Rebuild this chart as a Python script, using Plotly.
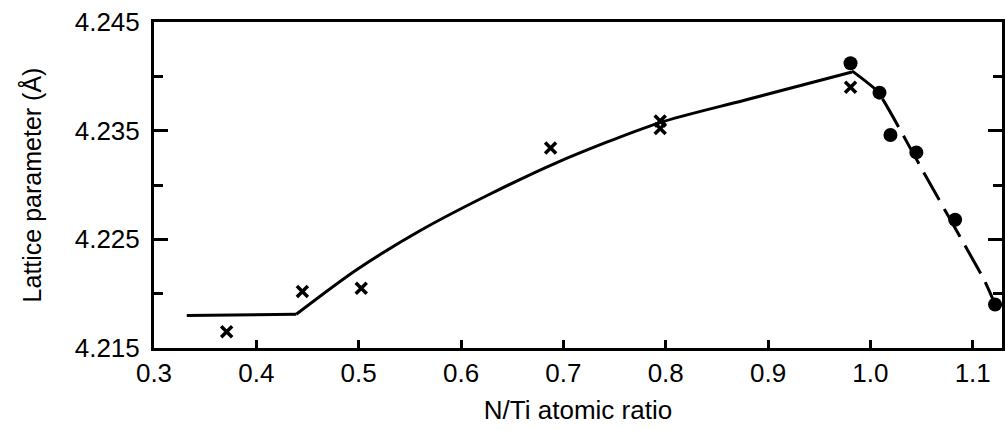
import plotly.graph_objects as go

# ---- data ----
flat_x = [0.332, 0.439]
flat_y = [4.2180, 4.2181]

curve_x = [0.439, 0.498, 0.562, 0.627, 0.692, 0.793, 0.877, 0.982]
curve_y = [4.2181, 4.2222, 4.2259, 4.2291, 4.2320, 4.2357, 4.2378, 4.2404]

dashed_x = [0.982, 1.007, 1.036, 1.056, 1.095, 1.111, 1.122]
dashed_y = [4.2405, 4.2386, 4.2339, 4.2305, 4.2240, 4.2213, 4.2190]

cross_x = [0.371, 0.445, 0.5025, 0.6875, 0.7946, 0.7946, 0.9806]
cross_y = [4.2165, 4.2202, 4.2205, 4.2334, 4.2359, 4.2352, 4.2390]

dot_x = [0.9806, 1.0089, 1.0196, 1.0449, 1.0828, 1.1218]
dot_y = [4.2412, 4.2385, 4.2346, 4.2330, 4.2268, 4.2190]

x_ticks = [0.3, 0.4, 0.5, 0.6, 0.7, 0.8, 0.9, 1.0, 1.1]
x_ticklabels = ["0.3", "0.4", "0.5", "0.6", "0.7", "0.8", "0.9", "1.0", "1.1"]
y_ticks = [4.215, 4.225, 4.235, 4.245]
y_ticklabels = ["4.215", "4.225", "4.235", "4.245"]
y_minor = [4.220, 4.230, 4.240]

FONT = "Liberation Sans"

fig = go.Figure()
fig.add_trace(go.Scatter(x=flat_x, y=flat_y, mode="lines",
                         line=dict(color="black", width=3), showlegend=False))
fig.add_trace(go.Scatter(x=curve_x, y=curve_y, mode="lines",
                         line=dict(color="black", width=3, shape="spline",
                                   smoothing=0.8), showlegend=False))
fig.add_trace(go.Scatter(x=dashed_x, y=dashed_y, mode="lines",
                         line=dict(color="black", width=3, dash="32px,10px",
                                   shape="spline", smoothing=0.5),
                         showlegend=False))
fig.add_trace(go.Scatter(x=cross_x, y=cross_y, mode="markers",
                         marker=dict(symbol="x-thin", size=11,
                                     line=dict(color="black", width=3.5)),
                         showlegend=False))
fig.add_trace(go.Scatter(x=dot_x, y=dot_y, mode="markers",
                         marker=dict(symbol="circle", size=14, color="black"),
                         showlegend=False))

fig.update_layout(
    width=1005, height=430,
    margin=dict(l=154, r=0, t=22, b=82),
    paper_bgcolor="white", plot_bgcolor="white",
    font=dict(family=FONT, color="black", size=26),
    xaxis=dict(
        range=[0.3, 1.1286], tickvals=x_ticks, ticktext=x_ticklabels,
        ticks="inside", ticklen=8, tickwidth=3, tickcolor="black",
        showline=True, linecolor="black", linewidth=3, mirror=True,
        showgrid=False, zeroline=False,
        tickfont=dict(size=26), ticklabelstandoff=0,
        title=dict(text="N/Ti atomic ratio", font=dict(size=26), standoff=14),
    ),
    yaxis=dict(
        range=[4.215, 4.245], tickvals=y_ticks, ticktext=y_ticklabels,
        ticks="inside", ticklen=14, tickwidth=3, tickcolor="black",
        minor=dict(tickvals=y_minor, ticks="inside",
                   ticklen=9, tickwidth=3, tickcolor="black", showgrid=False),
        showline=True, linecolor="black", linewidth=3, mirror="ticks",
        showgrid=False, zeroline=False,
        tickfont=dict(size=26), ticklabelstandoff=6,
        title=dict(text="Lattice parameter (Å)", font=dict(size=25), standoff=26),
    ),
)

fig.write_html("out.html")
